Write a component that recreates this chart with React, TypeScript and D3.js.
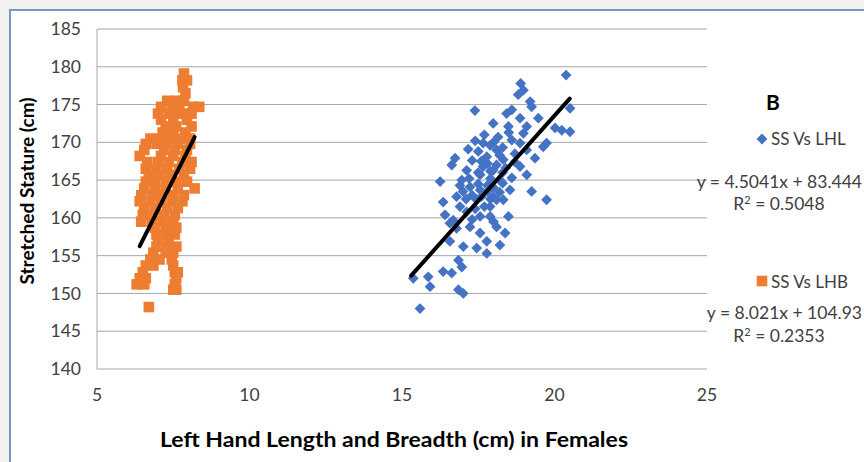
import React from 'react';
import * as d3 from 'd3';

// SS vs LHL (blue diamonds): [hand length, stature]
const lhlPoints: [number, number][] = [
  [20.38, 178.9], [18.89, 177.8], [18.98, 176.9], [18.81, 176.3], [20.51, 174.5],
  [17.39, 174.2], [19.2, 175.4], [18.43, 173.8], [18.6, 174.3], [17.99, 172.5],
  [18.49, 172.1], [18.87, 173.2], [19.47, 173.2], [19.09, 172.1], [20.02, 171.9],
  [20.51, 171.4], [20.24, 171.6], [19.74, 169.9], [19.63, 169.4], [17.17, 169.1],
  [16.74, 167.9], [16.63, 167.0], [17.89, 169.6], [18.1, 169.0], [17.78, 168.1],
  [18.6, 170.3], [18.7, 168.5], [19.36, 167.9], [16.25, 164.8], [16.96, 165.0],
  [17.56, 165.7], [17.99, 166.3], [18.21, 165.0], [18.87, 166.8], [19.09, 165.7],
  [19.25, 163.5], [19.74, 162.4], [16.35, 162.1], [16.79, 162.8], [17.23, 164.1],
  [17.45, 162.4], [17.99, 162.8], [18.32, 162.4], [16.41, 160.4], [16.68, 159.7],
  [17.12, 160.8], [17.56, 160.2], [17.89, 161.5], [18.49, 160.2], [18.1, 158.8],
  [18.38, 158.0], [16.57, 156.9], [17.01, 156.2], [17.45, 156.0], [17.78, 156.9],
  [17.78, 155.3], [18.21, 156.4], [16.85, 154.4], [16.96, 153.5], [16.35, 152.9],
  [16.63, 152.7], [15.86, 152.2], [15.37, 152.0], [15.92, 150.9], [16.85, 150.5],
  [17.01, 150.0], [15.59, 148.0], [17.56, 163.7], [17.89, 160.2], [18.54, 163.7],
  [17.12, 166.3], [17.66, 166.8], [18.32, 167.7], [18.87, 169.9], [19.09, 169.0],
  [16.57, 159.3], [16.9, 161.5], [18.1, 162.4], [17.66, 169.9], [18.15, 170.7],
  [19.25, 174.7], [18.98, 171.2], [17.56, 158.0], [16.79, 158.6], [17.23, 158.8],
  [17.5, 164.5], [17.8, 163.5], [18.0, 164.0], [17.3, 163.0], [17.9, 165.2],
  [18.3, 166.0], [17.6, 167.5], [18.1, 167.0], [17.7, 161.5], [17.0, 163.5],
  [17.4, 170.2], [17.7, 171.0], [18.0, 170.0], [18.3, 169.3], [18.5, 171.3],
  [17.5, 168.8], [17.8, 167.2], [18.2, 168.3], [18.4, 166.6], [17.3, 167.6],
  [17.5, 166.0], [17.9, 166.2], [18.6, 165.3], [17.2, 165.2], [17.8, 164.3],
  [18.3, 164.6], [17.1, 162.5], [17.6, 162.8], [18.2, 163.4], [17.4, 161.2],
  [17.9, 162.5], [18.0, 159.5], [17.3, 159.8], [16.9, 164.3], [18.7, 167.4],
];

// SS vs LHB (orange squares): [hand breadth, stature]
const lhbPoints: [number, number][] = [
  [7.85, 179.1], [7.8, 178.2], [7.95, 178.2], [7.82, 177.3], [7.9, 176.5],
  [7.3, 175.5], [7.6, 175.5], [7.85, 175.5],
  [7.1, 174.7], [7.45, 174.7], [7.7, 174.7], [8.15, 174.7], [8.35, 174.7],
  [7.0, 173.8], [7.35, 173.8], [7.6, 173.8], [7.85, 173.8], [8.1, 173.8],
  [7.1, 173.0], [7.5, 173.0], [7.95, 173.0],
  [7.25, 172.1], [7.6, 172.1], [8.1, 172.1],
  [7.15, 171.3], [7.5, 171.3], [7.9, 171.3],
  [6.75, 170.5], [7.05, 170.5], [7.4, 170.5], [7.75, 170.5], [8.05, 170.5],
  [6.6, 169.8], [6.95, 169.8], [7.3, 169.8], [7.65, 169.8], [8.05, 169.8],
  [6.55, 169.0], [7.2, 169.0], [7.55, 169.0], [7.95, 169.0],
  [6.4, 168.2], [7.1, 168.2], [7.5, 168.2], [7.9, 168.2],
  [6.65, 167.4], [7.0, 167.4], [7.35, 167.4], [7.8, 167.4], [8.1, 167.4],
  [6.6, 166.5], [6.95, 166.5], [7.3, 166.5], [7.7, 166.5], [8.05, 166.5],
  [6.7, 165.7], [7.05, 165.7], [7.4, 165.7], [7.85, 165.7],
  [6.6, 164.8], [6.9, 164.8], [7.25, 164.8], [7.6, 164.8], [7.95, 164.8],
  [6.55, 163.9], [6.9, 163.9], [7.25, 163.9], [7.65, 163.9], [8.2, 163.9],
  [6.45, 163.0], [6.8, 163.0], [7.1, 163.0], [7.5, 163.0], [7.85, 163.0],
  [6.4, 162.2], [6.75, 162.2], [7.1, 162.2], [7.45, 162.2], [7.8, 162.2],
  [6.55, 161.3], [6.9, 161.3], [7.3, 161.3], [7.65, 161.3],
  [6.5, 160.4], [6.85, 160.4], [7.2, 160.4], [7.55, 160.4],
  [6.45, 159.5], [6.8, 159.5], [7.15, 159.5], [7.5, 159.5],
  [6.9, 158.7], [7.25, 158.7], [7.6, 158.7],
  [6.95, 157.8], [7.3, 157.8], [7.55, 157.8],
  [7.0, 157.0], [7.35, 157.0],
  [6.95, 156.2], [7.3, 156.2], [7.6, 156.2],
  [6.85, 155.4], [7.25, 155.4], [7.5, 155.4],
  [6.75, 154.5], [7.05, 154.5], [7.45, 154.5],
  [6.6, 153.7], [6.85, 153.7], [7.5, 153.7],
  [6.5, 152.8], [7.55, 152.8], [7.65, 152.8],
  [6.4, 152.0], [6.6, 152.0], [7.6, 152.0],
  [6.3, 151.2], [6.55, 151.2], [7.55, 151.2],
  [7.5, 150.5], [7.6, 150.5],
  [6.7, 148.2],
];

// trendlines: slope, intercept, x-range
const lhlFit = { m: 4.5041, b: 83.444, x0: 15.3, x1: 20.5 };
const lhbFit = { m: 8.021, b: 104.93, x0: 6.4, x1: 8.2 };

const xTicks = [5, 10, 15, 20, 25];
const yTicks = [140, 145, 150, 155, 160, 165, 170, 175, 180, 185];

const W = 864;
const H = 462;
const plot = { left: 97, right: 707, top: 29, bottom: 369 };
const font = "Lato, 'Open Sans', sans-serif";
const blue = '#4472c4';
const orange = '#ed7d31';
const textGray = '#404040';

export default function App() {
  const x = d3.scaleLinear().domain([5, 25]).range([plot.left, plot.right]);
  const y = d3.scaleLinear().domain([140, 185]).range([plot.bottom, plot.top]);

  const diamond = d3.symbol().type(d3.symbolDiamond2).size(74)() as string;
  const square = d3.symbol().type(d3.symbolSquare).size(112)() as string;

  const fitPath = (f: { m: number; b: number; x0: number; x1: number }) =>
    d3.line<number>().x(d => x(d)).y(d => y(f.m * d + f.b))([f.x0, f.x1]) as string;

  return (
    <div style={{ position: 'absolute', left: 0, top: 0 }}>
      <svg width={W} height={H} style={{ display: 'block', fontFamily: font }}>
        <rect x={0} y={0} width={W} height={H} fill="#f2f2ee" />
        <rect x={10} y={10} width={W + 10} height={H + 10} fill="#fff" stroke="#7896c8" strokeWidth={2} />

        {yTicks.map(t => (
          <line key={t} x1={plot.left} x2={plot.right} y1={y(t)} y2={y(t)} stroke="#a6a6a6" strokeWidth={1} />
        ))}
        <line x1={plot.left} x2={plot.left} y1={plot.top} y2={plot.bottom} stroke="#a6a6a6" strokeWidth={1} />

        {yTicks.map(t => (
          <text key={t} x={81} y={y(t)} dy="0.35em" textAnchor="end" fontSize={17.5} fill={textGray}>{t}</text>
        ))}
        {xTicks.map(t => (
          <text key={t} x={x(t)} y={395} dy="0.35em" textAnchor="middle" fontSize={17.5} fill={textGray}>{t}</text>
        ))}

        {lhbPoints.map((p, i) => (
          <path key={'b' + i} d={square} transform={`translate(${x(p[0])},${y(p[1])})`} fill={orange} />
        ))}
        {lhlPoints.map((p, i) => (
          <path key={'l' + i} d={diamond} transform={`translate(${x(p[0])},${y(p[1])})`} fill={blue} />
        ))}

        <path d={fitPath(lhbFit)} stroke="#000" strokeWidth={4} strokeLinecap="round" fill="none" />
        <path d={fitPath(lhlFit)} stroke="#000" strokeWidth={4} strokeLinecap="round" fill="none" />

        <text transform="translate(34,191) rotate(-90)" textAnchor="middle" fontSize={19} fontWeight="bold"
          fill="#000" textLength={187} lengthAdjust="spacingAndGlyphs">
          Stretched Stature (cm)
        </text>
        <text x={394} y={447} textAnchor="middle" fontSize={21} fontWeight="bold" fill="#000"
          textLength={468} lengthAdjust="spacingAndGlyphs">
          Left Hand Length and Breadth (cm) in Females
        </text>

        <text x={773} y={110} textAnchor="middle" fontSize={21} fontWeight="bold" fill="#000">B</text>

        <path d={diamond} transform="translate(762,139)" fill={blue} />
        <text x={771} y={139} dy="0.35em" fontSize={17} fill={textGray}>SS Vs LHL</text>
        <text x={862} y={182} dy="0.35em" textAnchor="end" fontSize={17.5} fill={textGray}>y = 4.5041x + 83.444</text>
        <text x={779} y={204} dy="0.35em" textAnchor="middle" fontSize={17.5} fill={textGray}>
          R<tspan fontSize={11} dy="-6">2</tspan><tspan dy="6"> = 0.5048</tspan>
        </text>

        <path d={square} transform="translate(762,281)" fill={orange} />
        <text x={771} y={282} dy="0.35em" fontSize={17} fill={textGray}>SS Vs LHB</text>
        <text x={862} y={313} dy="0.35em" textAnchor="end" fontSize={17.5} fill={textGray}>y = 8.021x + 104.93</text>
        <text x={779} y={336} dy="0.35em" textAnchor="middle" fontSize={17.5} fill={textGray}>
          R<tspan fontSize={11} dy="-6">2</tspan><tspan dy="6"> = 0.2353</tspan>
        </text>
      </svg>
    </div>
  );
}
